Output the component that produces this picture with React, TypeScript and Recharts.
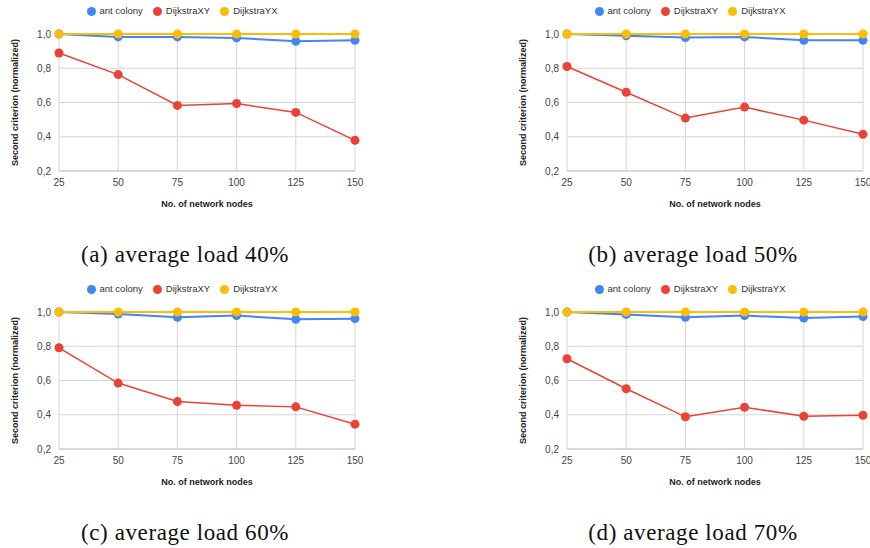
import React from 'react';
import {
  LineChart,
  Line,
  XAxis,
  YAxis,
  CartesianGrid,
  Legend,
} from 'recharts';

const nodes = [25, 50, 75, 100, 125, 150];
const yTicks = [0.2, 0.4, 0.6, 0.8, 1.0];

// load 40%
const antColony40 = [1.0, 0.983, 0.983, 0.977, 0.957, 0.963];
const dijkstraXY40 = [0.889, 0.763, 0.583, 0.594, 0.542, 0.379];
const dijkstraYX40 = [1.0, 1.0, 1.0, 1.0, 1.0, 1.0];

// load 50%
const antColony50 = [1.0, 0.99, 0.979, 0.983, 0.963, 0.963];
const dijkstraXY50 = [0.81, 0.66, 0.509, 0.573, 0.497, 0.414];
const dijkstraYX50 = [1.0, 1.0, 1.0, 1.0, 1.0, 1.0];

// load 60%
const antColony60 = [1.0, 0.988, 0.969, 0.979, 0.957, 0.961];
const dijkstraXY60 = [0.791, 0.585, 0.477, 0.455, 0.446, 0.345];
const dijkstraYX60 = [1.0, 1.0, 1.0, 1.0, 1.0, 1.0];

// load 70%
const antColony70 = [1.0, 0.986, 0.969, 0.979, 0.965, 0.973];
const dijkstraXY70 = [0.727, 0.552, 0.388, 0.444, 0.391, 0.397];
const dijkstraYX70 = [1.0, 1.0, 1.0, 1.0, 1.0, 1.0];

const captions = [
  '(a) average load 40%',
  '(b) average load 50%',
  '(c) average load 60%',
  '(d) average load 70%',
];

const BLUE = '#4285F4';
const RED = '#EA4335';
const YELLOW = '#FBBC04';
const GRID = '#d6d6d6';
const FONT = 'Arial, "Liberation Sans", sans-serif';

const buildData = (ant: number[], xy: number[], yx: number[]) =>
  nodes.map((n, i) => ({
    nodes: String(n),
    ant: ant[i],
    xy: xy[i],
    yx: yx[i],
  }));

const panels = [
  { data: buildData(antColony40, dijkstraXY40, dijkstraYX40), left: 0, top: 0 },
  { data: buildData(antColony50, dijkstraXY50, dijkstraYX50), left: 508, top: 0 },
  { data: buildData(antColony60, dijkstraXY60, dijkstraYX60), left: 0, top: 278 },
  { data: buildData(antColony70, dijkstraXY70, dijkstraYX70), left: 508, top: 278 },
];

const CHART_W = 370;
const CHART_H = 225;

const Panel: React.FC<{ data: any[] }> = ({ data }) => {
  const tickStyle = { fill: '#444', fontSize: 10, fontFamily: FONT };
  return (
    <LineChart
      width={CHART_W}
      height={CHART_H}
      data={data}
      margin={{ top: 16, right: 15, bottom: 24, left: 19 }}
    >
      <CartesianGrid stroke={GRID} />
      <XAxis
        dataKey="nodes"
        tick={tickStyle}
        tickLine={false}
        axisLine={{ stroke: '#c8c8c8' }}
        height={30}
        label={{
          value: 'No. of network nodes',
          position: 'bottom',
          offset: 0,
          style: { fill: '#222', fontSize: 9, fontWeight: 'bold', fontFamily: FONT },
        }}
      />
      <YAxis
        domain={[0.2, 1.0]}
        ticks={yTicks}
        tick={tickStyle}
        tickLine={false}
        axisLine={false}
        width={40}
        tickFormatter={(v: number) => v.toFixed(1).replace('.', ',')}
        label={{
          value: 'Second criterion (normalized)',
          angle: -90,
          position: 'insideLeft',
          offset: -4,
          style: { fill: '#222', fontSize: 9, fontWeight: 'bold', fontFamily: FONT, textAnchor: 'middle' },
        }}
      />
      <Legend
        verticalAlign="top"
        align="center"
        iconType="circle"
        iconSize={9}
        height={18}
        itemSorter="dataKey"
        wrapperStyle={{ top: 5, fontSize: 9.5, fontFamily: FONT }}
        formatter={(value: string) => <span style={{ color: '#333' }}>{value}</span>}
      />
      <Line
        type="linear"
        dataKey="ant"
        name="ant colony"
        stroke={BLUE}
        strokeWidth={2}
        dot={{ r: 4.5, fill: BLUE, stroke: BLUE, strokeWidth: 0 }}
        isAnimationActive={false}
      />
      <Line
        type="linear"
        dataKey="xy"
        name="DijkstraXY"
        stroke={RED}
        strokeWidth={1.5}
        dot={{ r: 4.5, fill: RED, stroke: RED, strokeWidth: 0 }}
        isAnimationActive={false}
      />
      <Line
        type="linear"
        dataKey="yx"
        name="DijkstraYX"
        stroke={YELLOW}
        strokeWidth={2}
        dot={{ r: 4.5, fill: YELLOW, stroke: YELLOW, strokeWidth: 0 }}
        isAnimationActive={false}
      />
    </LineChart>
  );
};

export default function App() {
  return (
    <div
      style={{
        position: 'absolute',
        left: 0,
        top: 0,
        width: 870,
        height: 548,
        background: '#fff',
        overflow: 'hidden',
      }}
    >
      {panels.map((p, i) => (
        <div key={i} style={{ position: 'absolute', left: p.left, top: p.top }}>
          <Panel data={p.data} />
        </div>
      ))}
      {panels.map((p, i) => (
        <div
          key={'c' + i}
          style={{
            position: 'absolute',
            left: p.left,
            top: p.top + 239,
            width: CHART_W,
            textAlign: 'center',
            fontFamily: '"Liberation Serif", "Times New Roman", serif',
            fontSize: 23,
            letterSpacing: 0.6,
            color: '#111',
            lineHeight: '32px',
          }}
        >
          {captions[i]}
        </div>
      ))}
    </div>
  );
}
